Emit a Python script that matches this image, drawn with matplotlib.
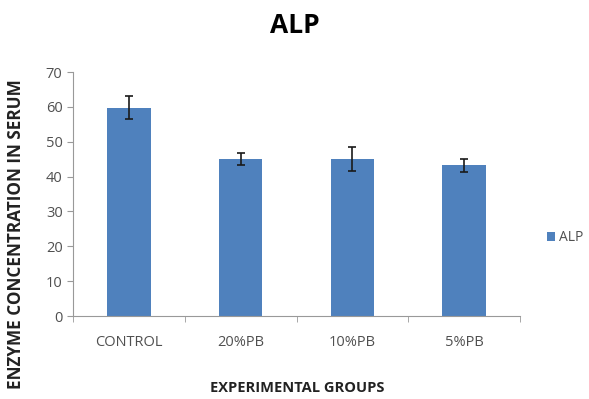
import numpy as np
import matplotlib
matplotlib.use('Agg')
import matplotlib.pyplot as plt

plt.rcParams['font.family'] = ['Open Sans', 'DejaVu Sans']

# data
groups = ['CONTROL', '20%PB', '10%PB', '5%PB']
alp = [59.8, 45.0, 45.0, 43.2]
alp_err = [3.4, 1.7, 3.4, 1.8]

fig = plt.figure(figsize=(5.89, 3.99), dpi=100)
ax = fig.add_axes([0.124, 0.208, 0.759, 0.6115])

x = np.arange(len(groups))
ax.bar(x, alp, width=0.39, color='#4F81BD', label='ALP', zorder=2)
ax.errorbar(x, alp, yerr=alp_err, fmt='none', ecolor='#1a1a1a',
            elinewidth=1.2, capsize=3, capthick=1.2, zorder=3)

ax.set_xlim(-0.5, len(groups) - 0.5)
ax.set_ylim(0, 70)
ax.set_yticks(range(0, 71, 10))
ax.set_xticks(x)
ax.set_xticklabels(groups)
ax.set_xticks(np.arange(-0.5, len(groups)), minor=True)
ax.tick_params(axis='x', which='major', length=0, pad=14, labelsize=10.5, labelcolor='#505050')
ax.tick_params(axis='x', which='minor', length=4, color='#999999')
ax.tick_params(axis='y', length=4, color='#999999', labelsize=10.5, labelcolor='#505050')

for s in ['top', 'right']:
    ax.spines[s].set_visible(False)
for s in ['left', 'bottom']:
    ax.spines[s].set_color('#999999')

fig.text(0.501, 0.937, 'ALP', ha='center', va='center', fontsize=19, fontweight='bold')
fig.text(0.505, 0.028, 'EXPERIMENTAL GROUPS', ha='center', va='center', fontsize=10.5, fontweight='bold',
         color='#222222')
fig.text(0.027, 0.414, 'ENZYME CONCENTRATION IN SERUM', ha='center', va='center',
         rotation=90, fontsize=12.3, fontweight='bold', color='#222222')

ax.legend(loc='center left', bbox_to_anchor=(1.06, 0.32), frameon=False,
          fontsize=10, handlelength=0.6, handleheight=0.6, handletextpad=0.3,
          borderpad=0, borderaxespad=0, labelcolor='#505050')

fig.savefig('out.png', dpi=100)
